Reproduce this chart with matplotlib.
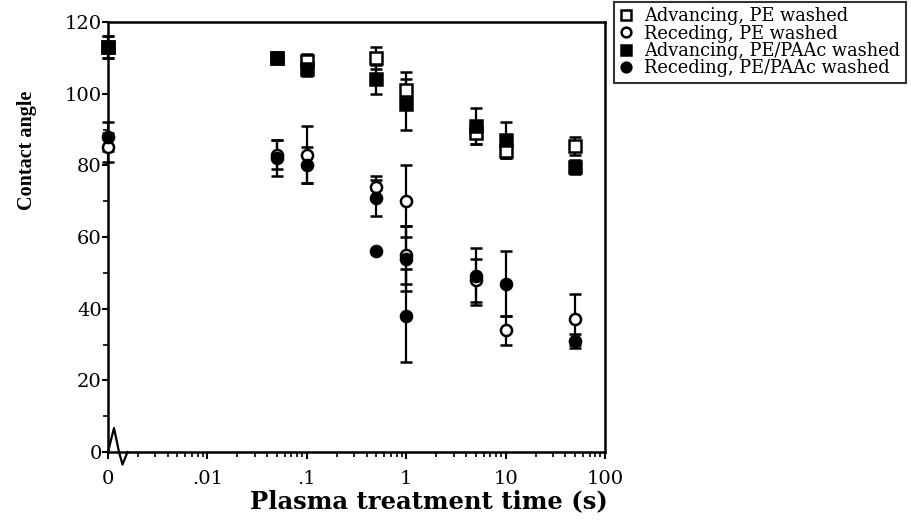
import numpy as np
import matplotlib
matplotlib.use("Agg")
import matplotlib.pyplot as plt
from matplotlib.lines import Line2D

plt.rcParams['font.family'] = ['DejaVu Serif', 'Liberation Serif']

# ---- data (x = plasma treatment time in s; 0 is drawn at the axis break) ----
x_adv_pe = [0, 0.05, 0.1, 0.5, 1, 5, 10, 50]
y_adv_pe = [113, 110, 109, 110, 101, 89, 84, 85.5]
e_adv_pe = [3, 1, 2, 3, 5, 3, 2, 2.5]

x_rec_pe = [0, 0.05, 0.1, 0.5, 1, 1, 5, 10, 50]
y_rec_pe = [85, 83, 83, 74, 70, 55, 48, 34, 37]
e_rec_pe = [4, 4, 8, 3, 10, 8, 6, 4, 7]

x_adv_paa = [0, 0.05, 0.1, 0.5, 1, 5, 10, 50]
y_adv_paa = [113, 110, 107, 104, 97, 91, 87, 79.5]
e_adv_paa = [3, 1, 2, 4, 7, 5, 5, 2]

x_rec_paa = [0, 0.05, 0.1, 0.5, 0.5, 1, 1, 5, 10, 50]
y_rec_paa = [88, 82, 80, 71, 56, 54, 38, 49, 47, 31]
e_rec_paa = [4, 5, 5, 5, 0, 9, 13, 8, 9, 2]

labels = ["Advancing, PE washed", "Receding, PE washed",
          "Advancing, PE/PAAc washed", "Receding, PE/PAAc washed"]
xtick_vals = [0, 0.01, 0.1, 1, 10, 100]
xtick_labels = ["0", ".01", ".1", "1", "10", "100"]
ytick_vals = [0, 20, 40, 60, 80, 100, 120]

ZERO_POS = 0.001  # where "0" sits on the log axis


def pos(xs):
    return [ZERO_POS if v == 0 else v for v in xs]


W, H = 911, 521
fig = plt.figure(figsize=(W / 100, H / 100), dpi=100)
ax = fig.add_axes([108 / W, 1 - 452 / H, (605 - 108) / W, (452 - 22) / H])

series = [
    (x_adv_pe, y_adv_pe, e_adv_pe, 's', 'white'),
    (x_rec_pe, y_rec_pe, e_rec_pe, 'o', 'white'),
    (x_adv_paa, y_adv_paa, e_adv_paa, 's', 'black'),
    (x_rec_paa, y_rec_paa, e_rec_paa, 'o', 'black'),
]
for xs, ys, es, m, fc in series:
    ax.errorbar(pos(xs), ys, yerr=es, fmt=m, color='black', mfc=fc, mec='black',
                mew=1.8, ms=8, elinewidth=1.6, capsize=4, capthick=1.6, zorder=3,
                clip_on=False)

ax.set_xscale('log')
ax.set_xlim(ZERO_POS, 100)
ax.set_ylim(0, 120)
ax.set_xticks(pos(xtick_vals))
ax.set_xticklabels(xtick_labels)
ax.set_yticks(ytick_vals)
ax.set_yticks(range(10, 120, 20), minor=True)
ax.tick_params(axis='both', which='major', labelsize=14, direction='out', length=5, width=1.5)
ax.tick_params(axis='both', which='minor', direction='out', length=3.5, width=1.2)
ax.tick_params(axis='x', which='major', pad=8)
ax.tick_params(axis='y', which='major', pad=0.5, length=4)
for s in ax.spines.values():
    s.set_linewidth(1.8)

ax.set_ylabel("Contact angle", fontsize=14.5, fontweight='bold', family='Liberation Serif')
ax.yaxis.set_label_coords(27 / W, 1 - 150 / H, transform=fig.transFigure)
ax.yaxis.label.set_verticalalignment('center')
ax.set_xlabel("Plasma treatment time (s)", fontsize=17.5, fontweight='bold')
ax.xaxis.set_label_coords(608 / W, 1 - 501 / H, transform=fig.transFigure)
ax.xaxis.label.set_horizontalalignment('right')
ax.xaxis.label.set_verticalalignment('center')

# axis-break squiggle at the origin (axes fractions)
aw, ah = 605 - 108, 452 - 22
sx = np.array([0, 6, 11, 14.5, 19.5]) / aw
sy = np.array([0, 24, 0, -12.5, 0]) / ah
ax.plot(sx, sy, color='black', lw=1.6, transform=ax.transAxes, clip_on=False)

handles = [Line2D([], [], ls='none', marker=m, mfc=fc, mec='black', mew=1.8, ms=7)
           for _, _, _, m, fc in series]
leg = fig.legend(handles, labels, loc='upper left', bbox_to_anchor=(614 / W, 1 - 2 / H),
                 frameon=True, fancybox=False, edgecolor='black', fontsize=12.8,
                 handlelength=0.8, handletextpad=0.6, borderpad=0.3, labelspacing=-0.04,
                 borderaxespad=0)
leg.get_frame().set_linewidth(1.5)

fig.savefig("out.png", dpi=100)
